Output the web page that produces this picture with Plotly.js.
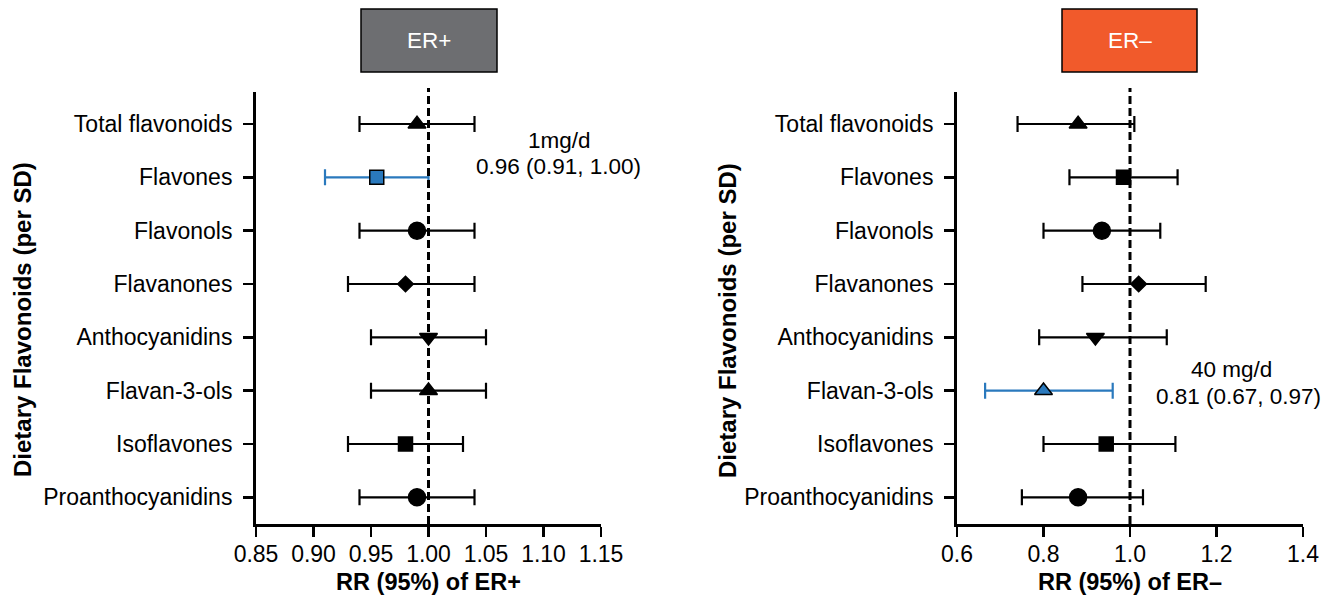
<!DOCTYPE html>
<html>
<head>
<meta charset="utf-8">
<script src="https://cdn.plot.ly/plotly-3.0.1.min.js"></script>
<style>html,body{margin:0;padding:0;background:#fff;}#chart{width:1334px;height:598px;}</style>
</head>
<body>
<div id="chart"></div>
<script>
// ---- data ----
var categories = ["Total flavonoids","Flavones","Flavonols","Flavanones","Anthocyanidins","Flavan-3-ols","Isoflavones","Proanthocyanidins"];
var erPosRR   = [0.99, 0.955, 0.99, 0.98, 1.00, 1.00, 0.98, 0.99];
var erPosLow  = [0.94, 0.91, 0.94, 0.93, 0.95, 0.95, 0.93, 0.94];
var erPosHigh = [1.04, 1.00, 1.04, 1.04, 1.05, 1.05, 1.03, 1.04];
var erNegRR   = [0.88, 0.985, 0.935, 1.02, 0.92, 0.80, 0.945, 0.88];
var erNegLow  = [0.74, 0.86, 0.80, 0.89, 0.79, 0.665, 0.80, 0.75];
var erNegHigh = [1.01, 1.11, 1.07, 1.175, 1.085, 0.96, 1.105, 1.03];
var erPosHighlight = 1; // index of highlighted row (Flavones)
var erNegHighlight = 5; // index of highlighted row (Flavan-3-ols)
var erPosNote = ["1mg/d", "0.96 (0.91, 1.00)"];
var erNegNote = ["40 mg/d", "0.81 (0.67, 0.97)"];
var xTicksPos = [0.85,0.90,0.95,1.00,1.05,1.10,1.15];
var xTicksNeg = [0.6,0.8,1.0,1.2,1.4];

// ---- style ----
var symbols = ["triangle-up","square","circle","diamond","triangle-down","triangle-up","square","circle"];
var sizes   = [15.5,14,17,12,15.5,15.5,14,17];
var BLUE = "#2a79bd";
var FONT = "Liberation Sans, Arial, Helvetica, sans-serif";
var W = 1334, H = 598;

function buildTraces(rr, lo, hi, hl, xa, ya) {
  var idxMain = [], idxHl = [hl];
  for (var i = 0; i < categories.length; i++) if (i !== hl) idxMain.push(i);
  function mk(idx, color, lineColor) {
    return {
      type: "scatter", mode: "markers", xaxis: xa, yaxis: ya, opacity: 1,
      x: idx.map(function(i){return rr[i];}),
      y: idx.map(function(i){return categories[i];}),
      error_x: {type: "data", symmetric: false,
        array: idx.map(function(i){return hi[i]-rr[i];}),
        arrayminus: idx.map(function(i){return rr[i]-lo[i];}),
        color: color, thickness: 2.2, width: 8},
      marker: {symbol: idx.map(function(i){return symbols[i];}),
        size: idx.map(function(i){return sizes[i];}), opacity: 1,
        color: color, line: {color: lineColor, width: 1.5}},
      showlegend: false, hoverinfo: "x+y"
    };
  }
  return [mk(idxMain, "#000", "#000"), mk(idxHl, BLUE, "#000")];
}

var traces = buildTraces(erPosRR, erPosLow, erPosHigh, erPosHighlight, "x", "y")
  .concat(buildTraces(erNegRR, erNegLow, erNegHigh, erNegHighlight, "x2", "y2"));

var yDom = [1 - 524/H, 1 - 92/H];
var yRange = [7.5, -0.6];
function yAxis(anchor) {
  return {domain: yDom, anchor: anchor, type: "category", categoryarray: categories,
    range: yRange, showline: true, linewidth: 3, linecolor: "#000", ticks: "outside",
    ticklen: 10, tickwidth: 2.5, tickcolor: "#000", showgrid: false, zeroline: false,
    ticklabelstandoff: 6,
    tickfont: {family: FONT, size: 23, color: "#000"}, fixedrange: true};
}
function xAxis(dom, range, ticks, fmt, title, anchor) {
  return {domain: dom, anchor: anchor, range: range, tickvals: ticks,
    ticktext: ticks.map(function(v){return v.toFixed(fmt);}),
    showline: true, linewidth: 3, linecolor: "#000", ticks: "outside", ticklen: 10,
    tickwidth: 2.5, tickcolor: "#000", showgrid: false, zeroline: false,
    ticklabelstandoff: -3,
    tickfont: {family: FONT, size: 23, color: "#000"},
    title: {text: "<b>" + title + "</b>", font: {family: FONT, size: 23.5, color: "#000"}, standoff: 8},
    fixedrange: true};
}

function note(x, y, text, size, color, angle) {
  return {xref: "paper", yref: "paper", x: x / W, y: 1 - y / H, xanchor: "center", yanchor: "middle",
    text: text, showarrow: false, textangle: angle || 0,
    font: {family: FONT, size: size, color: color}};
}

var layout = {
  width: W, height: H, margin: {l: 0, r: 0, t: 0, b: 0},
  paper_bgcolor: "#fff", plot_bgcolor: "rgba(0,0,0,0)",
  xaxis: xAxis([256/W, 601/W], [0.85, 1.15], xTicksPos, 2, "RR (95%) of ER+", "y"),
  yaxis: yAxis("x"),
  xaxis2: xAxis([957/W, 1303/W], [0.6, 1.4], xTicksNeg, 1, "RR (95%) of ER\u2013", "y2"),
  yaxis2: yAxis("x2"),
  shapes: [
    {type: "line", xref: "x", yref: "paper", x0: 1, x1: 1, y0: 1 - 524/H, y1: 1 - 88/H,
      line: {color: "#000", width: 3, dash: "8px,4px"}},
    {type: "line", xref: "x2", yref: "paper", x0: 1, x1: 1, y0: 1 - 524/H, y1: 1 - 88/H,
      line: {color: "#000", width: 3, dash: "8px,4px"}},
    {type: "rect", xref: "paper", yref: "paper", x0: 361/W, x1: 497/W, y0: 1 - 72/H, y1: 1 - 9/H,
      fillcolor: "#6d6e71", line: {color: "#000", width: 1.5}},
    {type: "rect", xref: "paper", yref: "paper", x0: 1062/W, x1: 1197/W, y0: 1 - 72/H, y1: 1 - 9/H,
      fillcolor: "#f15a2b", line: {color: "#000", width: 1.5}}
  ],
  annotations: [
    note(429, 41, "ER+", 22.5, "#fff"),
    note(1129.5, 41, "ER\u2013", 22.5, "#fff"),
    note(559, 140, erPosNote[0], 22.5, "#000"),
    note(558, 166, erPosNote[1], 22.5, "#000"),
    note(1231, 369, erNegNote[0], 22.5, "#000"),
    note(1238, 396, erNegNote[1], 22.5, "#000"),
    note(22, 320, "<b>Dietary Flavonoids (per SD)</b>", 24, "#000", -90),
    note(727, 320, "<b>Dietary Flavonoids (per SD)</b>", 24, "#000", -90)
  ]
};

Plotly.newPlot("chart", traces, layout, {displayModeBar: false, staticPlot: true});
</script>
</body>
</html>
